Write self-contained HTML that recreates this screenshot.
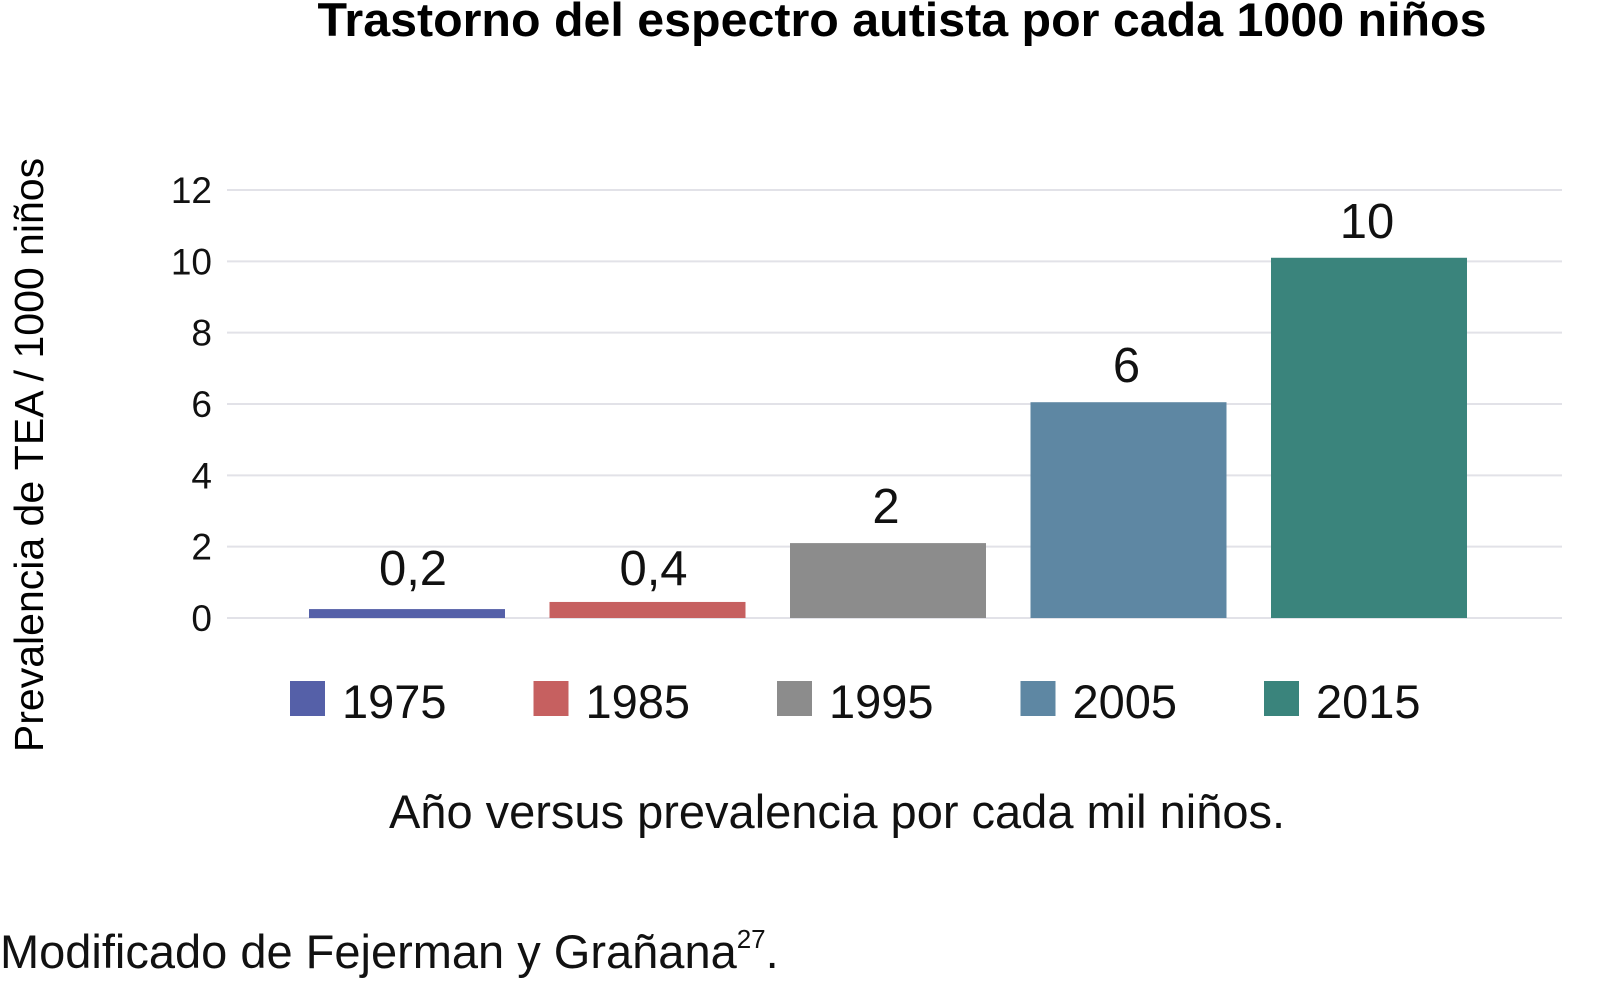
<!DOCTYPE html>
<html><head><meta charset="utf-8"><style>
html,body{margin:0;padding:0;background:#fff;width:1597px;height:996px;overflow:hidden;font-family:"Liberation Sans",sans-serif;}
</style></head><body>
<svg id="chart" width="1597" height="996" viewBox="0 0 1597 996" xmlns="http://www.w3.org/2000/svg" font-family="Liberation Sans, sans-serif">
<text x="902" y="36" text-anchor="middle" font-size="47" font-weight="bold" fill="#000" textLength="1169" lengthAdjust="spacingAndGlyphs">Trastorno del espectro autista por cada 1000 niños</text>
<text transform="translate(43,455) rotate(-90)" text-anchor="middle" font-size="41" fill="#000">Prevalencia de TEA / 1000 niños</text>
<g id="grid"></g>
<g id="yticks"></g>
<g id="bars"></g>
<g id="legend"></g>
<text x="837" y="828" text-anchor="middle" font-size="47" fill="#111">Año versus prevalencia por cada mil niños.</text>
<text x="0" y="968" font-size="47" fill="#111">Modificado de Fejerman y Grañana<tspan font-size="26" dy="-20">27</tspan><tspan dy="20">.</tspan></text>
</svg>
<script>
const categories = ['1975','1985','1995','2005','2015'];
const values = [0.25, 0.45, 2.1, 6.05, 10.1];
const valueLabels = ['0,2','0,4','2','6','10'];
const colors = ['#5560a8','#c66060','#8c8c8c','#5e87a3','#3a847c'];
const yTicks = [0,2,4,6,8,10,12];
const NS='http://www.w3.org/2000/svg';
const y0=618, pxPerUnit=(618-190)/12;
function yScale(v){return y0-v*pxPerUnit;}
function xCenter(i){return 407+i*240.5;}
const barW=196;
function mk(tag,attrs,parent){const e=document.createElementNS(NS,tag);for(const k in attrs)e.setAttribute(k,attrs[k]);parent.appendChild(e);return e;}
const grid=document.getElementById('grid'), yt=document.getElementById('yticks'), bars=document.getElementById('bars'), leg=document.getElementById('legend');
yTicks.forEach(t=>{
  const l=mk('line',{x1:227,x2:1562,y1:yScale(t),y2:yScale(t),stroke:'#e2e2e8','stroke-width':2},grid);
  
  
  const tx=mk('text',{x:212,y:yScale(t)+13,'text-anchor':'end','font-size':37,fill:'#111'},yt);
  tx.textContent=t;
  
  
});
categories.forEach((c,i)=>{
  const top=yScale(values[i]);
  const r=mk('rect',{x:xCenter(i)-barW/2,y:top,width:barW,height:y0-top,fill:colors[i]},bars);
  
  
  const lb=mk('text',{x:xCenter(i)-(i<2?-6:2),y:top-20,'text-anchor':'middle','font-size':49,fill:'#111'},bars);
  if(i<2){lb.setAttribute('y',585);}
  lb.textContent=valueLabels[i];
  
  
  const lx=290+i*243.5;
  const sq=mk('rect',{x:lx,y:681,width:35,height:35,fill:colors[i]},leg);
  
  
  const lt=mk('text',{x:lx+52,y:718,'font-size':47,fill:'#111'},leg);
  lt.textContent=c;
  
  
});
</script>
</body></html>
